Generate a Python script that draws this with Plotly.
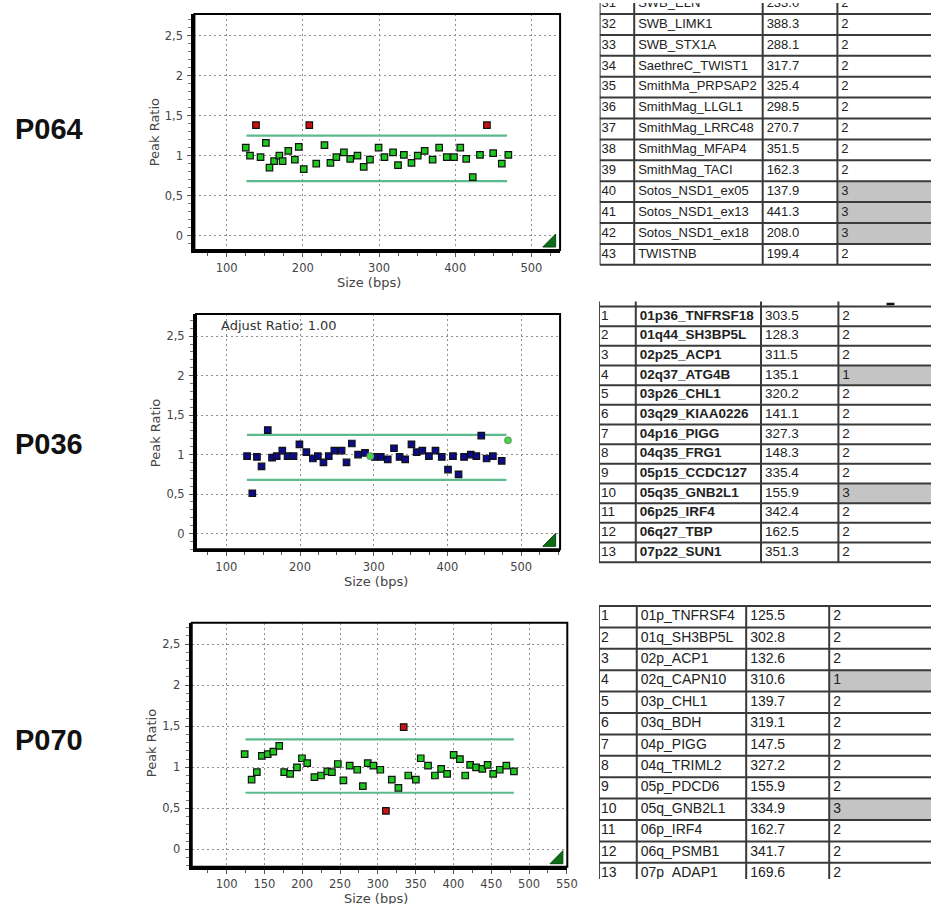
import plotly.graph_objects as go

W, H = 942, 904

# ---------------- data: P064 ----------------
P064_SIZE = [125.1, 130.7, 138.5, 144.5, 151.5, 156.2, 162.3, 169.2, 173.5, 180.9, 189.5, 194.7,
             201.2, 208.5, 217.6, 228.4, 236.2, 244.0, 253.9, 262.2, 271.7, 279.9, 288.1, 299.4,
             307.1, 318.4, 324.9, 332.6, 342.6, 350.8, 359.9, 370.3, 378.9, 388.9, 398.4, 406.6,
             414.4, 423.0, 432.5, 441.6, 449.8, 461.1, 469.7]
P064_RATIO = [1.10, 1.00, 1.38, 0.98, 1.16, 0.85, 0.93, 1.00, 0.93, 1.06, 0.95, 1.11,
              0.83, 1.38, 0.90, 1.13, 0.91, 0.98, 1.04, 0.96, 1.00, 0.86, 0.95, 1.10,
              0.98, 1.04, 0.88, 1.01, 0.91, 1.00, 1.06, 0.95, 1.10, 0.98, 0.98, 1.10,
              0.96, 0.73, 1.01, 1.38, 1.03, 0.90, 1.01]
P064_STATUS = ["n", "n", "o", "n", "n", "n", "n", "n", "n", "n", "n", "n",
               "n", "o", "n", "n", "n", "n", "n", "n", "n", "n", "n", "n",
               "n", "n", "n", "n", "n", "n", "n", "n", "n", "n", "n", "n",
               "n", "n", "n", "o", "n", "n", "n"]
P064_LIMITS = [0.68, 1.25]
P064_SPAN = [126, 468]

# ---------------- data: P036 ----------------
P036_SIZE = [128.2, 135.3, 141.6, 147.8, 156.3, 162.1, 168.4, 176.0, 183.1, 191.2, 199.2, 208.6,
             217.5, 224.2, 231.8, 239.0, 246.6, 256.4, 263.1, 270.3, 278.8, 288.2, 295.3, 301.6,
             309.6, 319.0, 327.5, 335.1, 342.7, 351.2, 358.3, 365.9, 374.9, 383.8, 392.3, 400.8,
             407.5, 415.1, 422.5, 431.7, 439.2, 445.9, 453.1, 461.6, 473.6, 482.1]
P036_RATIO = [0.98, 0.51, 0.97, 0.85, 1.31, 0.96, 0.98, 1.05, 0.98, 0.98, 1.13, 1.03,
              0.95, 0.98, 0.90, 0.98, 1.05, 1.05, 0.90, 1.14, 1.00, 1.02, 0.98, 0.97,
              0.97, 0.94, 1.08, 0.97, 0.94, 1.13, 1.03, 1.05, 0.98, 1.05, 0.97, 0.81,
              0.98, 0.75, 0.97, 1.00, 0.98, 1.24, 0.95, 0.98, 0.92, 1.18]
P036_STATUS = ["n"] * 22 + ["c"] + ["n"] * 22 + ["c"]
P036_LIMITS = [0.68, 1.25]
P036_SPAN = [128, 480]

# ---------------- data: P070 ----------------
P070_SIZE = [123.9, 133.1, 140.0, 146.6, 154.4, 161.8, 169.6, 176.2, 184.0, 193.1, 199.7, 206.6,
             216.2, 224.9, 233.2, 239.3, 247.1, 254.5, 262.8, 272.8, 280.2, 286.7, 294.1, 303.3,
             310.7, 318.5, 327.2, 334.2, 340.3, 350.3, 356.8, 366.4, 375.5, 383.8, 391.6, 400.3,
             408.6, 415.6, 422.1, 429.9, 438.2, 445.2, 452.6, 461.3, 470.0, 480.0]
P070_RATIO = [1.16, 0.85, 0.94, 1.14, 1.16, 1.19, 1.26, 0.94, 0.92, 1.00, 1.11, 1.05,
              0.88, 0.90, 0.95, 0.94, 1.04, 0.84, 1.02, 0.97, 0.77, 1.05, 1.02, 0.97,
              0.47, 0.85, 0.75, 1.49, 0.90, 0.85, 1.11, 1.02, 0.90, 0.98, 0.92, 1.15,
              1.10, 0.90, 1.03, 1.00, 0.98, 1.03, 0.92, 0.97, 1.02, 0.95]
P070_STATUS = ["n"] * 24 + ["o", "n", "n", "o"] + ["n"] * 18
P070_LIMITS = [0.69, 1.34]
P070_SPAN = [125, 480]

# ---------------- data: tables ----------------
T1_IDX = [31, 32, 33, 34, 35, 36, 37, 38, 39, 40, 41, 42, 43]
T1_NAME = ["SWB_ELN", "SWB_LIMK1", "SWB_STX1A", "SaethreC_TWIST1", "SmithMa_PRPSAP2",
           "SmithMag_LLGL1", "SmithMag_LRRC48", "SmithMag_MFAP4", "SmithMag_TACI",
           "Sotos_NSD1_ex05", "Sotos_NSD1_ex13", "Sotos_NSD1_ex18", "TWISTNB"]
T1_SIZE = ["233.0", "388.3", "288.1", "317.7", "325.4", "298.5", "270.7", "351.5", "162.3",
           "137.9", "441.3", "208.0", "199.4"]
T1_COPY = [2, 2, 2, 2, 2, 2, 2, 2, 2, 3, 3, 3, 2]

T2_IDX = list(range(1, 14))
T2_NAME = ["01p36_TNFRSF18", "01q44_SH3BP5L", "02p25_ACP1", "02q37_ATG4B", "03p26_CHL1",
           "03q29_KIAA0226", "04p16_PIGG", "04q35_FRG1", "05p15_CCDC127", "05q35_GNB2L1",
           "06p25_IRF4", "06q27_TBP", "07p22_SUN1"]
T2_SIZE = ["303.5", "128.3", "311.5", "135.1", "320.2", "141.1", "327.3", "148.3", "335.4",
           "155.9", "342.4", "162.5", "351.3"]
T2_COPY = [2, 2, 2, 1, 2, 2, 2, 2, 2, 3, 2, 2, 2]

T3_IDX = list(range(1, 14))
T3_NAME = ["01p_TNFRSF4", "01q_SH3BP5L", "02p_ACP1", "02q_CAPN10", "03p_CHL1", "03q_BDH",
           "04p_PIGG", "04q_TRIML2", "05p_PDCD6", "05q_GNB2L1", "06p_IRF4", "06q_PSMB1",
           "07p_ADAP1"]
T3_SIZE = ["125.5", "302.8", "132.6", "310.6", "139.7", "319.1", "147.5", "327.2", "155.9",
           "334.9", "162.7", "341.7", "169.6"]
T3_COPY = [2, 2, 2, 1, 2, 2, 2, 2, 2, 3, 2, 2, 2]

# ---------------- styles ----------------
GREEN = "#1fc81f"
RED = "#c81414"
BLUE = "#0c0c8a"
CTRL = "#3ddc3d"
LIMIT = "#5dba8c"
GRID = "#8f8f8f"
TRI = "#0b6e16"
TICK_FONT = dict(family="DejaVu Sans", size=11.5, color="#444")
TITLE_FONT = dict(family="DejaVu Sans", size=13, color="#444")


def px_x(p):
    return p / W


def px_y(p):
    return 1 - p / H


fig = go.Figure()
shapes = []
annotations = []
layout = {}

CHARTS = [
    dict(label="P064", size=P064_SIZE, ratio=P064_RATIO, status=P064_STATUS,
         limits=P064_LIMITS, span=P064_SPAN, xrange=[57.7, 537.6], yrange=[-0.18, 2.77],
         xdtick=100, box=(196.7, 14, 566.7, 250), palette={"n": GREEN, "o": RED},
         label_y=129, ytitle=(156.7, 132.5), xtitle=(373, 282), note=None, xstand=1),
    dict(label="P036", size=P036_SIZE, ratio=P036_RATIO, status=P036_STATUS,
         limits=P036_LIMITS, span=P036_SPAN, xrange=[58.9, 552.8], yrange=[-0.20, 2.78],
         xdtick=100, box=(198.3, 314, 566.7, 549.3), palette={"n": BLUE, "c": CTRL},
         label_y=444, ytitle=(156.7, 433.3), xtitle=(380, 581.7), note="Adjust Ratio: 1.00",
         xstand=1),
    dict(label="P070", size=P070_SIZE, ratio=P070_RATIO, status=P070_STATUS,
         limits=P070_LIMITS, span=P070_SPAN, xrange=[53.9, 550.6], yrange=[-0.21, 2.76],
         xdtick=50, box=(194, 622.7, 574, 866.7), palette={"n": GREEN, "o": RED},
         label_y=740, ytitle=(152.7, 743.3), xtitle=(380, 898), note=None, xstand=0),
]

for i, c in enumerate(CHARTS, start=1):
    xa = "x" if i == 1 else f"x{i}"
    ya = "y" if i == 1 else f"y{i}"
    x0, y0, x1, y1 = c["box"]
    # limit lines
    lo, hi = c["limits"]
    s0, s1 = c["span"]
    fig.add_trace(go.Scatter(x=[s0, s1, None, s0, s1], y=[lo, lo, None, hi, hi], mode="lines",
                             line=dict(color=LIMIT, width=2.2), xaxis=xa, yaxis=ya,
                             hoverinfo="skip", showlegend=False))
    # points
    for st, col in c["palette"].items():
        xs = [s for s, t in zip(c["size"], c["status"]) if t == st]
        ys = [r for r, t in zip(c["ratio"], c["status"]) if t == st]
        sym = "circle" if st == "c" else "square"
        lcol = "#6a9a6a" if st == "c" else "#111"
        fig.add_trace(go.Scatter(x=xs, y=ys, mode="markers", xaxis=xa, yaxis=ya,
                                 marker=dict(symbol=sym, size=6.5, color=col,
                                             line=dict(color=lcol, width=1.2)),
                                 showlegend=False))
    axis_common = dict(showgrid=True, gridcolor=GRID, griddash="2px,3px", gridwidth=1.3,
                       zeroline=False, showline=True, linecolor="#000", linewidth=3,
                       ticks="outside", ticklen=4, tickcolor="#555", tickwidth=1,
                       tickfont=TICK_FONT, fixedrange=True)
    layout["xaxis" if i == 1 else f"xaxis{i}"] = dict(
        axis_common, domain=[px_x(x0), px_x(x1)], range=c["xrange"], tick0=0,
        dtick=c["xdtick"], anchor=ya, ticklabelstandoff=c["xstand"],
        minor=dict(dtick=25, tick0=0, ticklen=3, tickcolor="#555", showgrid=False))
    layout["yaxis" if i == 1 else f"yaxis{i}"] = dict(
        axis_common, domain=[px_y(y1), px_y(y0)], range=c["yrange"], tick0=0, dtick=0.5,
        anchor=xa, ticklabelstandoff=2,
        minor=dict(dtick=0.1, tick0=0, ticklen=3, tickcolor="#777", showgrid=False))
    # frame
    shapes.append(dict(type="rect", xref=f"{xa} domain", yref=f"{ya} domain",
                       x0=0, x1=1, y0=0, y1=1, line=dict(color="#000", width=2), layer="above"))
    # corner triangle
    wpx, hpx = x1 - x0, y1 - y0
    tr = 1 - 4.5 / wpx
    tl = 1 - 17.5 / wpx
    tb = 3 / hpx
    tt = 16 / hpx
    shapes.append(dict(type="path", xref=f"{xa} domain", yref=f"{ya} domain",
                       path=f"M {tl},{tb} L {tr},{tb} L {tr},{tt} Z",
                       fillcolor=TRI, line=dict(color="#064a0e", width=1), layer="above"))
    # texts
    annotations.append(dict(text=c["label"], x=px_x(50), y=px_y(c["label_y"]), xref="paper",
                            yref="paper", showarrow=False, xanchor="center", yanchor="middle",
                            font=dict(family="Liberation Sans", size=29, color="#111", weight="bold")))
    annotations.append(dict(text="Peak Ratio", x=px_x(c["ytitle"][0]), y=px_y(c["ytitle"][1]),
                            xref="paper", yref="paper", showarrow=False, textangle=-90,
                            xanchor="center", yanchor="middle", font=TITLE_FONT))
    annotations.append(dict(text="Size (bps)", x=px_x(c["xtitle"][0]), y=px_y(c["xtitle"][1]),
                            xref="paper", yref="paper", showarrow=False,
                            xanchor="center", yanchor="middle", font=TITLE_FONT))
    if c["note"]:
        annotations.append(dict(text=c["note"], x=px_x(x0 + 23), y=px_y(y0 + 11), xref="paper",
                                yref="paper", showarrow=False, xanchor="left", yanchor="middle",
                                font=dict(family="DejaVu Sans", size=13, color="#333")))

# ---------------- tables ----------------
TABLES = [
    dict(idx=T1_IDX, name=T1_NAME, size=T1_SIZE, copy=T1_COPY,
         cols=[606.7, 641.7, 771.7, 847.3], top=14, first=32, pitch=20.9,
         dom=(3, 268), vtop=0, font=dict(family="Liberation Sans", size=13, color="#222"),
         bold=False),
    dict(idx=T2_IDX, name=T2_NAME, size=T2_SIZE, copy=T2_COPY,
         cols=[606, 643.3, 770, 848.3], top=306.5, first=1, pitch=19.67,
         dom=(298, 566), vtop=301.5, font=dict(family="Liberation Sans", size=13.5, color="#222"),
         bold=True),
    dict(idx=T3_IDX, name=T3_NAME, size=T3_SIZE, copy=T3_COPY,
         cols=[606, 644.3, 755, 839], top=606, first=1, pitch=21.4,
         dom=(600, 879), vtop=606, font=dict(family="Liberation Sans", size=14, color="#222"),
         bold=False),
]

for k, t in enumerate(TABLES, start=4):
    xa, ya = f"x{k}", f"y{k}"
    left = t["cols"][0]
    width = W - left

    def rpx(p, t=t):
        return t["first"] - 0.5 + (p - t["top"]) / t["pitch"]

    d0, d1 = t["dom"]
    layout[f"xaxis{k}"] = dict(domain=[px_x(left), 1], range=[0, width], visible=False,
                               fixedrange=True, anchor=ya)
    layout[f"yaxis{k}"] = dict(domain=[px_y(d1), px_y(d0)], range=[rpx(d1), rpx(d0)],
                               visible=False, fixedrange=True, anchor=xa)
    rows = t["idx"]
    rmin = max(min(rows), t["first"])
    rmax = max(rows)
    # gray cells
    for r, cp in zip(rows, t["copy"]):
        if cp != 2:
            shapes.append(dict(type="rect", xref=xa, yref=ya, x0=t["cols"][3] - left, x1=width,
                               y0=r - 0.5, y1=r + 0.5, fillcolor="#c4c4c4",
                               line=dict(width=0), layer="below"))
    # horizontal lines
    for r in range(rmin, rmax + 2):
        shapes.append(dict(type="line", xref=xa, yref=ya, x0=0, x1=width,
                           y0=r - 0.5, y1=r - 0.5, line=dict(color="#3a3a3a", width=2)))
    # vertical lines
    for cx in t["cols"]:
        shapes.append(dict(type="line", xref=xa, yref=ya, x0=cx - left, x1=cx - left,
                           y0=rpx(t["vtop"]), y1=rmax + 0.5, line=dict(color="#3a3a3a", width=2)))
    pads = [2, 4, 4, 4]
    columns = [[str(v) for v in t["idx"]], t["name"], t["size"], [str(v) for v in t["copy"]]]
    for ci, (vals, pad) in enumerate(zip(columns, pads)):
        f = dict(t["font"])
        if ci == 1 and t["bold"]:
            f["weight"] = "bold"
        fig.add_trace(go.Scatter(x=[t["cols"][ci] - left + pad] * len(vals), y=rows,
                                 text=vals, mode="text", textposition="middle right",
                                 textfont=f, xaxis=xa, yaxis=ya, cliponaxis=True,
                                 hoverinfo="skip", showlegend=False))

# small mark above table 2
shapes.append(dict(type="line", xref="paper", yref="paper", x0=px_x(897), x1=px_x(905),
                   y0=px_y(304), y1=px_y(304), line=dict(color="#111", width=2.5)))

fig.update_layout(
    width=W, height=H, margin=dict(l=0, r=0, t=0, b=0),
    paper_bgcolor="white", plot_bgcolor="white", separators=", ",
    showlegend=False, shapes=shapes, annotations=annotations, **layout)

fig.write_html("out.html", config={"displayModeBar": False},
               post_script="document.body.style.margin='0';document.body.style.overflow='hidden';")
